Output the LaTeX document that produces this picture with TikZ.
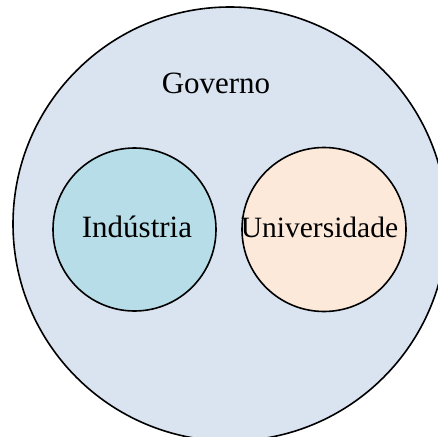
\documentclass[tikz,border=0pt]{standalone}
\usepackage{fontspec}
\setmainfont{Liberation Serif}
\definecolor{govfill}{HTML}{DAE3F0}
\definecolor{indfill}{HTML}{B7DDE8}
\definecolor{unifill}{HTML}{FCE9DA}
\tikzset{
  ring/.style={circle, draw=black, line width=1.6pt, inner sep=0pt},
  lbl/.style={anchor=base, inner sep=0pt, font=\fontsize{31}{37}\selectfont}
}
\begin{document}
\begin{tikzpicture}[x=1pt,y=-1pt]
\useasboundingbox (0,0) rectangle (438,436);
\clip (0,0) rectangle (438,436);
\fill[white] (0,0) rectangle (438,436);
\node[ring, fill=govfill, minimum size=434pt] (gov) at (230,224) {};
\node[ring, fill=indfill, minimum size=163pt] (ind) at (134.5,229.5) {};
\node[ring, fill=unifill, minimum size=164pt] (uni) at (324,229.5) {};
\node[lbl] (govt) at (216,93) {Governo};
\node[lbl] (indt) at (137,237) {Indústria};
\node[lbl, font=\fontsize{29.5}{35}\selectfont] (unit) at (319.5,237) {Universidade};
\end{tikzpicture}
\end{document}
